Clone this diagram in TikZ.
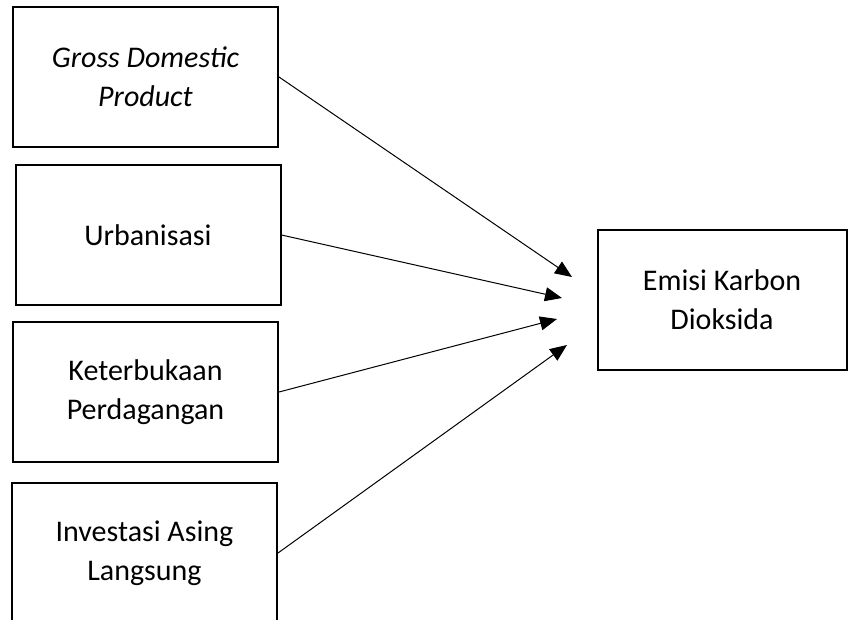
\documentclass[tikz,border=0pt]{standalone}
\usepackage{fontspec}
\setmainfont{Carlito}
\usetikzlibrary{positioning,arrows.meta}

\begin{document}
\begin{tikzpicture}[
    x=1pt, y=-1pt,
    % Plain boxes, thin arrows with big filled heads
    var_box/.style={rectangle, draw=black, line width=2pt, minimum width=265pt,
                    minimum height=140pt, inner sep=0pt, align=center,
                    font=\fontsize{30}{39}\selectfont},
    effect_arrow/.style={-{Triangle[length=17pt,width=14pt]}, line width=1pt, color=black},
    node distance=16pt
]
\useasboundingbox (0,0) rectangle (848,620);

% Independent variables - stacked on the left
\node[var_box] (gdp) at (145.5,77) {\textit{Gross Domestic}\\\textit{Product}};
\node[var_box, below=16pt of gdp, xshift=2.5pt] (urban) {Urbanisasi};
\node[var_box, below=15pt of urban, xshift=-2.5pt] (trade) {Keterbukaan\\Perdagangan};
\node[var_box, below=19pt of trade, xshift=-1pt] (fdi) {Investasi Asing\\Langsung};

% Dependent variable - right side
\node[var_box, minimum width=249pt] (co2) at (722,300) {Emisi Karbon\\Dioksida};

% Arrow heads stop short of the target box
\coordinate (tip1) at (572,277);
\coordinate (tip2) at (562,298);
\coordinate (tip3) at (557,319);
\coordinate (tip4) at (567,345);

\draw[effect_arrow] (gdp.east) -- (tip1);
\draw[effect_arrow] (urban.east) -- (tip2);
\draw[effect_arrow] (trade.east) -- (tip3);
\draw[effect_arrow] (fdi.east) -- (tip4);

\end{tikzpicture}
\end{document}
